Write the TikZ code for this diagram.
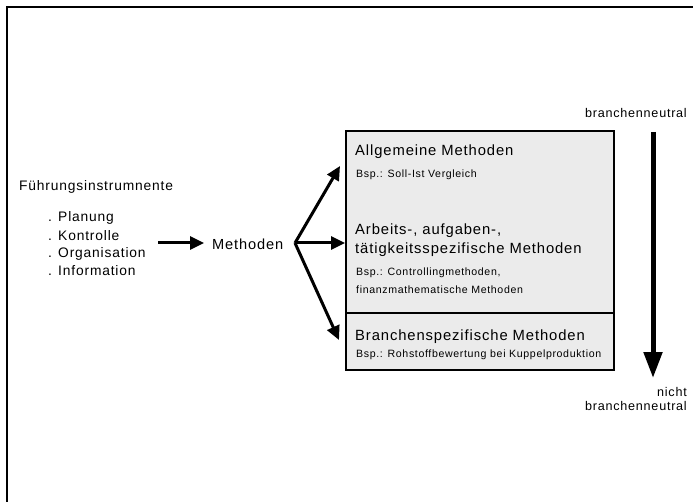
\documentclass[tikz,border=0pt]{standalone}
\usepackage{fontspec}
\setmainfont{Liberation Sans}[LetterSpace=6]
\usetikzlibrary{arrows.meta}
\begin{document}
\begin{tikzpicture}[x=1pt,y=-1pt,
  txt/.style={inner sep=0pt, anchor=west, font=\fontsize{13.8}{15}\selectfont},
  head/.style={inner sep=0pt, anchor=west, font=\fontsize{14.8}{17}\selectfont},
  small/.style={inner sep=0pt, anchor=west, font=\fontsize{10.6}{12}\selectfont},
  side/.style={inner sep=0pt, anchor=east, font=\fontsize{12.6}{14}\selectfont},
  panel/.style={draw, line width=1.5pt, fill=black!8, minimum width=268pt, inner sep=0pt},
  bigarrow/.style={line width=3pt, -{Triangle[length=14pt,width=13pt]}},
  vertarrow/.style={line width=5pt, -{Triangle[length=26pt,width=18pt]}}]
\useasboundingbox (0,0) rectangle (693,502);
\draw[line width=1.5pt] (7,502) -- (7,7) -- (693,7);

% left texts
\node[txt] (fi) at (19,187) {Führungsinstrumnente};
\node[txt] (l1) at (48,218) {. Planung};
\node[txt] (l2) at (48,236) {. Kontrolle};
\node[txt] (l3) at (48,254) {. Organisation};
\node[txt] (l4) at (48,271) {. Information};

\coordinate (a0) at (158,243);
\coordinate (a1) at (204,243);
\draw[bigarrow] (a0) -- (a1);

\node[txt, font=\fontsize{14.6}{16}\selectfont] (meth) at (212,244) {Methoden};

\coordinate (apex) at (295,243);
\coordinate (t1) at (340,166);
\coordinate (t2) at (345,243);
\coordinate (t3) at (339,340);
\draw[bigarrow] (apex) -- (t1);
\draw[bigarrow] (apex) -- (t2);
\draw[bigarrow] (apex) -- (t3);

% box
\node[panel, minimum height=182pt] (upper) at (480,222) {};
\node[panel, minimum height=57pt] (lower) at (480,341.5) {};

\node[head] (h1) at (355,152) {Allgemeine Methoden};
\node[small] (b1) at (356,175) {Bsp.: Soll-Ist Vergleich};
\node[head] (h2a) at (355,231) {Arbeits-, aufgaben-,};
\node[head] (h2b) at (355,250) {tätigkeitsspezifische Methoden};
\node[small] (b2a) at (356,273) {Bsp.: Controllingmethoden,};
\node[small] (b2b) at (356,290) {finanzmathematische Methoden};
\node[head] (h3) at (355,337) {Branchenspezifische Methoden};
\node[small] (b3) at (356,355) {Bsp.: Rohstoffbewertung bei Kuppelproduktion};

% right
\node[side] (bn1) at (687,113) {branchenneutral};
\node[side] (nn1) at (687,392) {nicht};
\node[side] (nn2) at (687,406) {branchenneutral};
\coordinate (v0) at (653,132);
\coordinate (v1) at (653,378);
\draw[vertarrow] (v0) -- (v1);
\end{tikzpicture}
\end{document}
